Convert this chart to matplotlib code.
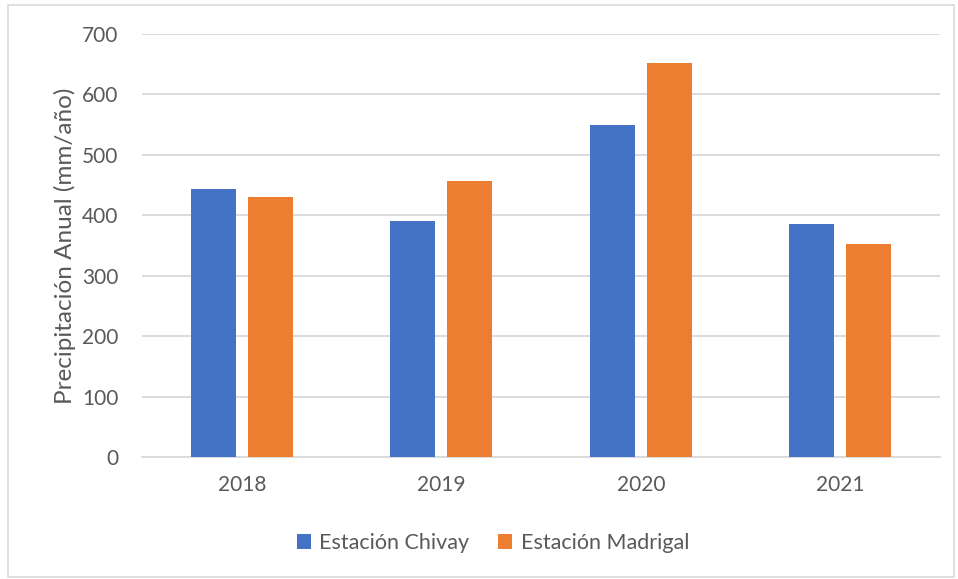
import matplotlib
matplotlib.use("Agg")
import matplotlib.pyplot as plt
import numpy as np
from matplotlib.patches import Rectangle

years = ["2018", "2019", "2020", "2021"]
chivay = [444, 391, 550, 385]
madrigal = [431, 457, 652, 352]
series_names = ["Estación Chivay", "Estación Madrigal"]
yticks = [0, 100, 200, 300, 400, 500, 600, 700]

plt.rcParams["font.family"] = ["Lato", "DejaVu Sans"]
text_color = "#595959"
blue = "#4472C4"
orange = "#ED7D31"

fig = plt.figure(figsize=(9.58, 5.79), dpi=100)
W, H = 958, 579
ax = fig.add_axes([142 / W, 1 - 457.3 / H, (940 - 142) / W, (457.3 - 34) / H])

x = np.arange(len(years))
bw = 0.225
off = 0.143
ax.bar(x - off, chivay, width=bw, color=blue, label=series_names[0], zorder=3)
ax.bar(x + off, madrigal, width=bw, color=orange, label=series_names[1], zorder=3)

ax.set_xlim(-0.5, len(years) - 0.5)
ax.set_ylim(0, 700)
ax.set_yticks(yticks)
ax.set_xticks(x)
ax.set_xticklabels(years)
ax.yaxis.grid(True, color="#D9D9D9", linewidth=1.3, zorder=0)
ax.set_axisbelow(True)
for s in ["top", "right", "left"]:
    ax.spines[s].set_visible(False)
ax.spines["bottom"].set_color("#D9D9D9")
ax.spines["bottom"].set_linewidth(1.3)
ax.tick_params(axis="both", length=0, colors=text_color, labelsize=15)
ax.tick_params(axis="y", pad=17)
ax.tick_params(axis="x", pad=13)
ax.set_ylabel("Precipitación Anual (mm/año)", color=text_color, fontsize=17.5, labelpad=4)

leg = fig.legend(loc="center", bbox_to_anchor=(493 / W, 1 - 543 / H), ncol=2, frameon=False,
                 fontsize=15.5, handlelength=0.65, handleheight=0.65, columnspacing=1.35,
                 handletextpad=0.4)
for t in leg.get_texts():
    t.set_color(text_color)

fig.patches.append(Rectangle((8 / W, 2 / H), (954 - 8) / W, (574 - 2) / H,
                             transform=fig.transFigure, fill=False,
                             edgecolor="#D9D9D9", linewidth=1.2))

fig.savefig("out.png", dpi=100)
